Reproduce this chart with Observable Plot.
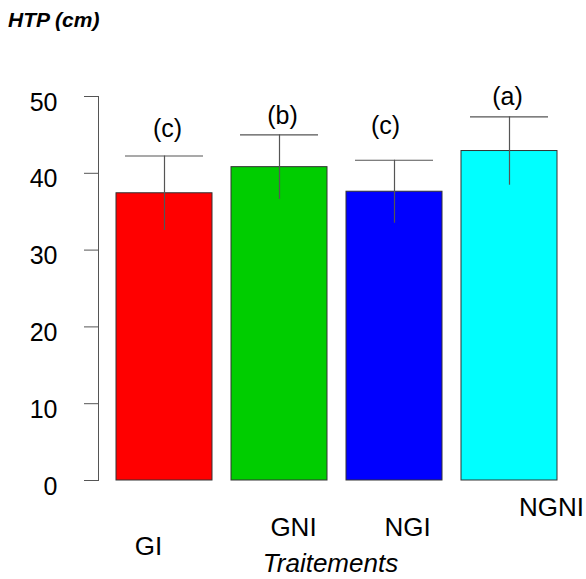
<!DOCTYPE html>
<html>
<head>
<meta charset="utf-8">
<script src="https://cdn.jsdelivr.net/npm/d3@7"></script>
<script src="https://cdn.jsdelivr.net/npm/@observablehq/plot@0.6"></script>
<style>
  html, body { margin: 0; padding: 0; background: white; }
  #wrap { position: relative; width: 586px; height: 579px; overflow: hidden; }
  #title { position: absolute; left: 8px; top: 9px; font: italic bold 21px/21px "Liberation Sans", Arial, sans-serif; color: black; white-space: nowrap; }
  #chart { position: absolute; left: 0; top: 0; }
</style>
</head>
<body>
<div id="wrap">
  <div id="chart"></div>
  <div id="title">HTP (cm)</div>
</div>
<script>
// ---- data ----
const categories = ["GI", "GNI", "NGI", "NGNI"];
const means = [37.4, 40.8, 37.6, 42.9];
const sds = [4.85, 4.2, 4.1, 4.45];
const letters = ["(c)", "(b)", "(c)", "(a)"];
const letterY = [45.8, 47.4, 46.2, 50.0];
const yTicks = [0, 10, 20, 30, 40, 50];
const palette = ["#FF0000", "#00CD00", "#0000FF", "#00FFFF"];
const xTitle = "Traitements";

// ---- layout (style only) ----
const letterDx = {GI: 3, GNI: 3, NGI: -9, NGNI: -2};
const labelOffset = {GI: [-16, 66], GNI: [14, 47], NGI: [13, 47], NGNI: [42, 27]};

const data = categories.map((c, i) => ({cat: c, mean: means[i], sd: sds[i], letter: letters[i], ly: letterY[i]}));

const font = "'Liberation Sans', Arial, sans-serif";

const chart = Plot.plot({
  width: 586,
  height: 579,
  marginTop: 96,
  marginBottom: 99,
  marginLeft: 98,
  marginRight: 20,
  style: {fontFamily: font, color: "black", background: "white", overflow: "visible"},
  x: {type: "band", domain: categories, range: [115.3, 558.3], paddingInner: 0.2 / 1.2, paddingOuter: 0, axis: null},
  y: {domain: [0, 50]},
  color: {domain: categories, range: palette},
  marks: [
    Plot.barY(data, {x: "cat", y: "mean", fill: "cat", stroke: "#333", strokeWidth: 1}),
    Plot.ruleX(data, {x: "cat", y1: d => d.mean - d.sd, y2: d => d.mean + d.sd, stroke: "#555", strokeWidth: 1.2}),
    Plot.tickY(data, {x: "cat", y: d => d.mean + d.sd, stroke: "#555", strokeWidth: 1.2, insetLeft: 9, insetRight: 9}),
    ...categories.map(c => Plot.text(data.filter(d => d.cat === c), {x: "cat", y: "ly", text: "letter", fontSize: 25, dx: letterDx[c], fill: "black", lineAnchor: "middle"})),
    Plot.axisY({ticks: yTicks, tickSize: 14, stroke: "#555", tickFormat: () => "", label: null}),
    Plot.axisY({ticks: yTicks, tickSize: 0, tickPadding: 41, fontSize: 25, dy: 6, fill: "black", label: null}),
    Plot.frame({anchor: "left", stroke: "#555"}),
    ...categories.map(c => Plot.text([c], {x: d => d, text: d => d, frameAnchor: "bottom", lineAnchor: "middle", dx: labelOffset[c][0], dy: labelOffset[c][1], fontSize: 26, fill: "black"})),
    Plot.text([xTitle], {text: d => d, frameAnchor: "bottom", lineAnchor: "middle", dx: -2, dy: 83, fontSize: 26, fontStyle: "italic", fill: "black"})
  ]
});
document.getElementById("chart").appendChild(chart);
</script>
</body>
</html>
